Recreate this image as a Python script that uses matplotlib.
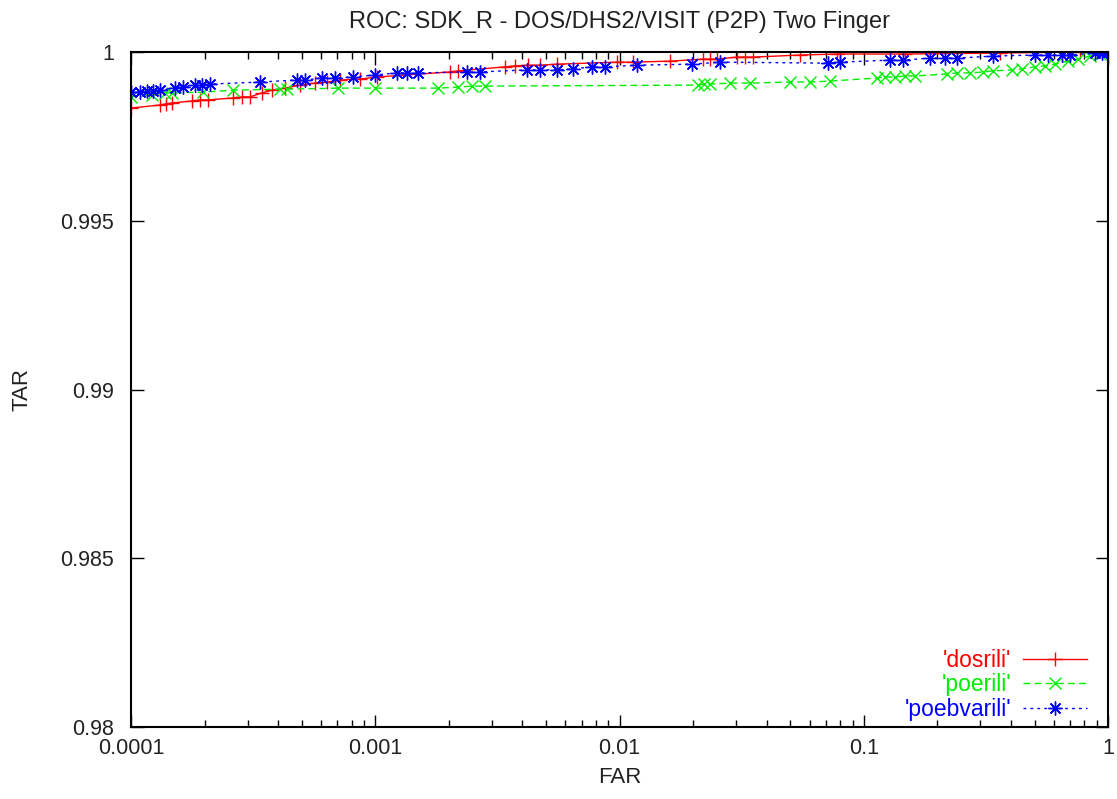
import matplotlib
matplotlib.use('Agg')
import matplotlib.pyplot as plt
from matplotlib.ticker import FixedLocator, LogLocator, NullFormatter

plt.rcParams['font.family'] = ['Liberation Sans', 'DejaVu Sans']

# data (FAR, TAR)
dos_far = [1e-4, 1.314e-4, 1.39e-4, 1.47e-4, 1.78e-4, 1.92e-4, 2.07e-4, 2.62e-4, 2.85e-4, 3.07e-4,
           3.44e-4, 3.78e-4, 4.27e-4, 4.92e-4, 5.67e-4, 6.35e-4, 7.17e-4, 8.66e-4, 1.017e-3, 2.02e-3,
           2.18e-3, 3.4e-3, 3.73e-3, 4.22e-3, 4.73e-3, 5.55e-3, 9.77e-3, 1.136e-2, 1.61e-2, 2.2e-2,
           2.35e-2, 2.51e-2, 3.03e-2, 3.27e-2, 3.52e-2, 5.48e-2, 7.77e-2, 0.1475, 0.361, 0.768, 1.0]
dos_tar = [0.99834, 0.99843, 0.99846, 0.99849, 0.99855, 0.99858, 0.99858, 0.99864, 0.99867, 0.99867,
           0.99879, 0.99887, 0.99893, 0.99902, 0.99908, 0.99911, 0.99917, 0.99920, 0.99926, 0.99941,
           0.99944, 0.99956, 0.99959, 0.99961, 0.99961, 0.99964, 0.99970, 0.99970, 0.99973, 0.99979,
           0.99979, 0.99979, 0.99985, 0.99985, 0.99985, 0.99991, 0.99994, 0.99994, 0.99997, 1.0, 1.0]

poe_far = [1e-4, 1.219e-4, 1.378e-4, 1.47e-4, 1.97e-4, 2.62e-4, 4.07e-4, 4.35e-4, 7.04e-4, 9.98e-4,
           1.81e-3, 2.18e-3, 2.49e-3, 2.81e-3, 2.1e-2, 2.22e-2, 2.35e-2, 2.83e-2, 3.42e-2, 4.99e-2,
           6.03e-2, 7.28e-2, 0.1133, 0.1222, 0.1343, 0.1475, 0.162, 0.219, 0.241, 0.272,
           0.308, 0.338, 0.405, 0.445, 0.502, 0.552, 0.607, 0.686, 0.754, 0.844, 0.927, 1.0]
poe_tar = [0.99867, 0.99873, 0.99879, 0.99879, 0.99881, 0.99887, 0.99890, 0.99890, 0.99893, 0.99893,
           0.99893, 0.99896, 0.99899, 0.99899, 0.99902, 0.99905, 0.99905, 0.99908, 0.99908, 0.99911,
           0.99911, 0.99914, 0.99923, 0.99926, 0.99926, 0.99929, 0.99929, 0.99935, 0.99938, 0.99938,
           0.99941, 0.99944, 0.99947, 0.99950, 0.99956, 0.99959, 0.99964, 0.99973, 0.99979, 0.99988, 0.99994, 1.0]

poebv_far = [1e-4, 1.089e-4, 1.163e-4, 1.23e-4, 1.314e-4, 1.514e-4, 1.633e-4, 1.828e-4, 1.95e-4, 2.1e-4,
             3.37e-4, 4.78e-4, 5.16e-4, 6.05e-4, 6.84e-4, 8.11e-4, 9.98e-4, 1.228e-3, 1.349e-3, 1.496e-3,
             2.38e-3, 2.68e-3, 4.18e-3, 4.73e-3, 5.55e-3, 6.45e-3, 7.72e-3, 8.72e-3, 1.18e-2, 1.98e-2,
             2.58e-2, 7.14e-2, 8.0e-2, 0.128, 0.145, 0.187, 0.215, 0.241, 0.338, 0.502,
             0.568, 0.649, 0.698, 0.885, 0.94, 1.0]
poebv_tar = [0.99881, 0.99881, 0.99884, 0.99884, 0.99887, 0.99893, 0.99896, 0.99902, 0.99902, 0.99905,
             0.99911, 0.99917, 0.99917, 0.99923, 0.99923, 0.99926, 0.99932, 0.99938, 0.99938, 0.99938,
             0.99941, 0.99941, 0.99947, 0.99947, 0.99947, 0.99950, 0.99956, 0.99956, 0.99961, 0.99964,
             0.99970, 0.99967, 0.99970, 0.99976, 0.99976, 0.99982, 0.99982, 0.99982, 0.99988, 0.99991,
             0.99991, 0.99991, 0.99991, 0.99997, 0.99997, 1.0]

x_ticks = [0.0001, 0.001, 0.01, 0.1, 1]
x_labels = ['0.0001', '0.001', '0.01', '0.1', '1']
y_ticks = [0.98, 0.985, 0.99, 0.995, 1.0]
y_labels = ['0.98', '0.985', '0.99', '0.995', '1']

fig = plt.figure(figsize=(11.17, 7.99), dpi=100)
ax = fig.add_axes([0.1173, 0.0901, 0.8747, 0.8448])

ax.plot(dos_far, dos_tar, color='#ff0000', lw=1, ls='-', marker='+', ms=10, mew=1,
        label="'dosrili'")
ax.plot(poe_far, poe_tar, color='#00ee00', lw=1, ls=(0, (5, 3)), marker='x', ms=8, mew=1,
        label="'poerili'")
ax.plot(poebv_far, poebv_tar, color='#0000ff', lw=1, ls=(0, (2, 3)), marker=(8, 2, 0), ms=10, mew=1,
        label="'poebvarili'")

ax.set_xscale('log')
ax.set_xlim(1e-4, 1)
ax.set_ylim(0.98, 1.0)
ax.xaxis.set_major_locator(FixedLocator(x_ticks))
ax.set_xticklabels(x_labels)
ax.xaxis.set_minor_locator(LogLocator(base=10, subs=range(2, 10)))
ax.xaxis.set_minor_formatter(NullFormatter())
ax.set_yticks(y_ticks)
ax.set_yticklabels(y_labels)
ax.tick_params(which='both', direction='in', top=True, right=True, labelsize=15.5,
               labelcolor='#222222')
ax.tick_params(axis='y', pad=12)
ax.tick_params(axis='x', pad=8)
ax.tick_params(which='major', length=9, width=1)
ax.tick_params(which='minor', length=5, width=1)
for s in ax.spines.values():
    s.set_linewidth(1.5)

ax.set_title('ROC: SDK_R - DOS/DHS2/VISIT (P2P) Two Finger', fontsize=17, pad=17,
             color='#222222')
ax.set_xlabel('FAR', fontsize=16, labelpad=6, color='#222222')
ax.set_ylabel('TAR', fontsize=16, labelpad=20, color='#222222')

ax.legend(loc='lower right', bbox_to_anchor=(0.988, -0.004), frameon=False, markerfirst=False,
          labelcolor='linecolor', fontsize=16.5, handlelength=2.8, numpoints=1,
          borderaxespad=0, labelspacing=0.05, handletextpad=0.5)

plt.savefig('out.png', dpi=100)
plt.close(fig)
